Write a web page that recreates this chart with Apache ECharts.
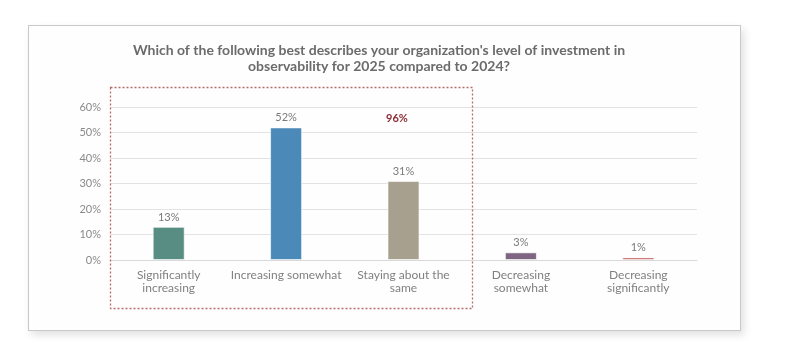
<!DOCTYPE html>
<html>
<head>
<meta charset="utf-8">
<script src="https://cdn.jsdelivr.net/npm/echarts@6/dist/echarts.min.js"></script>
<style>
  html, body { margin: 0; padding: 0; background: #ffffff; }
  #wrap { position: relative; width: 791px; height: 348px; overflow: hidden; }
  #card {
    position: absolute; left: 28px; top: 25px; width: 711px; height: 304px;
    border: 1px solid #c9c9c6; background: #fefefe;
    box-shadow: 3px 4px 8px rgba(0,0,0,0.12);
  }
  #chart { position: absolute; left: 0; top: 0; width: 791px; height: 348px; }
</style>
</head>
<body>
<div id="wrap">
  <div id="card"></div>
  <div id="chart"></div>
</div>
<script>
// Survey answers and their shares (%)
const categories = [
  'Significantly\nincreasing',
  'Increasing somewhat',
  'Staying about the\nsame',
  'Decreasing\nsomewhat',
  'Decreasing\nsignificantly'
];
const shares = [13, 52, 31, 3, 1];
const barColors = ['#578d83', '#4a89b8', '#a8a08f', '#7e6682', '#c0504d'];
const yTicks = [0, 10, 20, 30, 40, 50, 60];

// Combined share of the first three answers (highlighted group)
const groupTotal = shares[0] + shares[1] + shares[2];

const font = 'Lato, "Open Sans", sans-serif';
const chart = echarts.init(document.getElementById('chart'), null, { renderer: 'canvas' });

chart.setOption({
  backgroundColor: 'transparent',
  animation: false,
  title: {
    text: "Which of the following best describes your organization's level of investment in\nobservability for 2025 compared to 2024?",
    left: 374, top: 37, textAlign: 'center',
    textStyle: { fontFamily: font, fontSize: 14, fontWeight: 'bold', color: '#6b6b6b', lineHeight: 16 }
  },
  grid: { left: 110, right: 94, top: 107, bottom: 88 },
  xAxis: {
    type: 'category',
    data: categories,
    axisLine: { lineStyle: { color: '#d9d9d9' } },
    axisTick: { show: false },
    axisLabel: { fontFamily: font, fontSize: 12, color: '#808080', lineHeight: 13, margin: 9, interval: 0 }
  },
  yAxis: {
    type: 'value',
    min: yTicks[0], max: yTicks[yTicks.length - 1], interval: 10,
    axisLine: { show: false },
    axisTick: { show: false },
    splitLine: { lineStyle: { color: '#e3e3e3' } },
    axisLabel: { fontFamily: font, fontSize: 11, color: '#8a8a8a', margin: 9, formatter: v => v + '%' }
  },
  series: [{
    type: 'bar',
    barWidth: 32,
    data: shares.map((v, i) => ({ value: v, itemStyle: { color: barColors[i] } })),
    itemStyle: { borderColor: 'rgba(255,255,255,0.6)', borderWidth: 1 },
    label: {
      show: true, position: 'top', distance: 4,
      fontFamily: font, fontSize: 11, color: '#7a7a7a',
      formatter: p => p.value + '%'
    }
  }],
  graphic: [
    {
      type: 'rect',
      shape: { x: 110.5, y: 87.5, width: 362, height: 221 },
      style: { fill: 'none', stroke: '#b86a6a', lineWidth: 1.3, lineDash: [2, 2] },
      z: 10
    },
    {
      type: 'text',
      x: 397, y: 118,
      style: {
        text: groupTotal + '%', fill: '#8c2a33',
        font: 'bold 11px ' + font, textAlign: 'center', textVerticalAlign: 'middle'
      },
      z: 10
    }
  ]
});
</script>
</body>
</html>
